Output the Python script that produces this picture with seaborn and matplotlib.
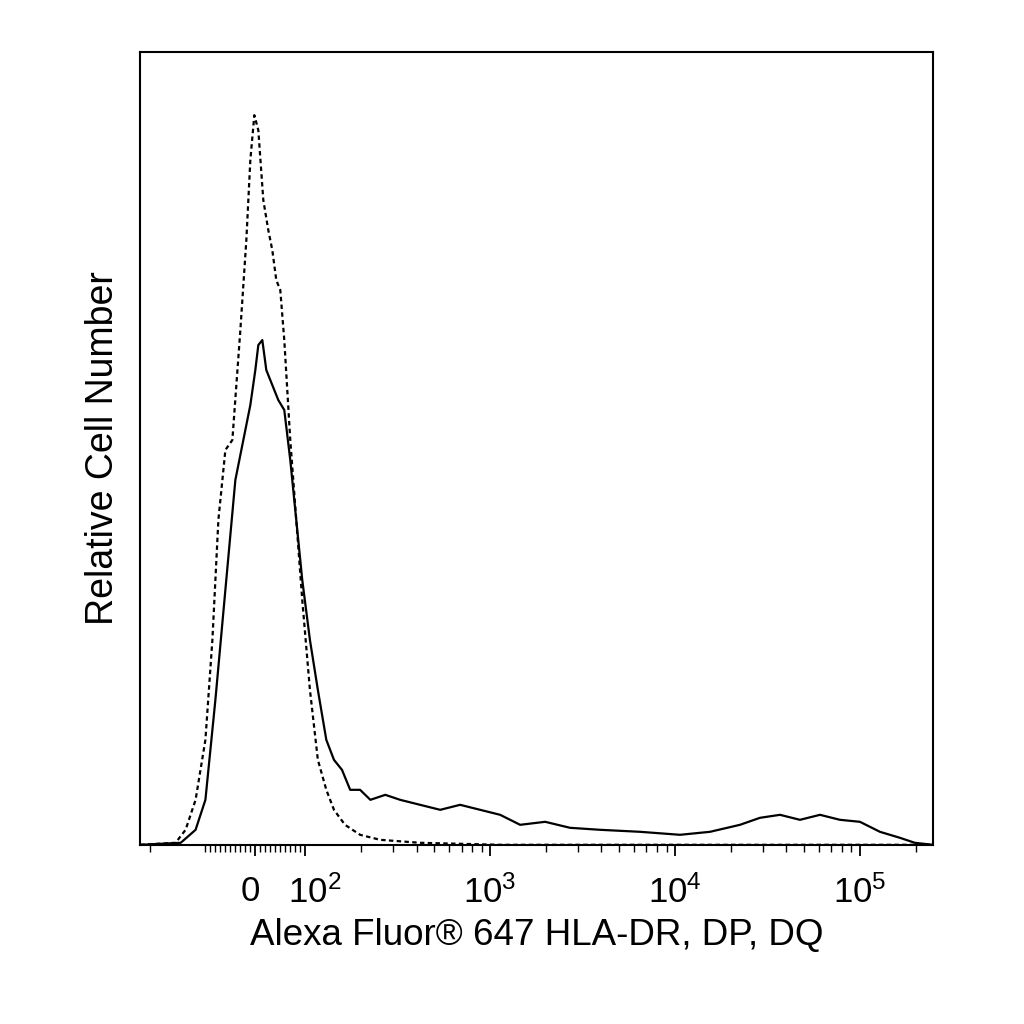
import numpy as np
import pandas as pd
import seaborn as sns
import matplotlib.pyplot as plt
from matplotlib.ticker import FixedLocator

sns.set_style("white")
plt.rcParams['font.family'] = ['Liberation Sans', 'DejaVu Sans']
plt.rcParams['mathtext.fontset'] = 'custom'
plt.rcParams['mathtext.rm'] = 'Liberation Sans'
plt.rcParams['mathtext.it'] = 'Liberation Sans'
plt.rcParams['text.color'] = 'black'
plt.rcParams['axes.labelcolor'] = 'black'
plt.rcParams['xtick.color'] = 'black'

# stained sample (solid)
stained_x = [-225, -136, -113, -100, -80, -60, -40, -20, -10, 0, 6, 14, 22, 34, 46, 58, 70, 82, 94,
             106, 117, 130, 143, 158, 175, 198, 225, 271, 326, 418, 537, 688, 883, 1133, 1453, 1984,
             2706, 3935, 6470, 10640, 15460, 22450, 28800, 36950, 47400, 60800, 78000, 100000,
             128300, 164500, 198200, 248000]
stained_y = [0, 2, 15, 45, 145, 255, 365, 415, 440, 475, 500, 505, 475, 460, 445, 435, 385, 325, 265,
             205, 155, 105, 85, 75, 55, 55, 45, 50, 45, 40, 35, 40, 35, 30, 20, 23, 17, 15, 13, 10,
             13, 20, 27, 30, 25, 30, 25, 23, 13, 7, 2, 0]

# isotype control (dashed)
control_x = [-225, -145, -128, -113, -100, -86, -74, -60, -46, -30, -18, -10, -2, 6, 16, 26, 34, 42,
             50, 58, 70, 82, 94, 106, 117, 130, 143, 164, 198, 254, 418, 1133, 248000]
control_y = [0, 2, 15, 45, 105, 205, 325, 395, 405, 515, 605, 685, 730, 715, 645, 615, 595, 565,
             555, 505, 405, 325, 245, 155, 85, 55, 35, 20, 10, 5, 2, 0, 0]

df = pd.concat([
    pd.DataFrame({"x": stained_x, "y": stained_y, "sample": "stained"}),
    pd.DataFrame({"x": control_x, "y": control_y, "sample": "control"}),
])

fig = plt.figure(figsize=(10.24, 10.24), dpi=100)
ax = fig.add_axes([0.137, 0.175, 0.774, 0.774])

sns.lineplot(data=df, x="x", y="y", style="sample", style_order=["stained", "control"],
             dashes={"stained": "", "control": (2, 1.5)}, color="black", linewidth=1.6,
             sort=False, estimator=None, legend=False, ax=ax)

ax.set_xscale("symlog", linthresh=100, linscale=0.243)
ax.set_xlim(-225, 248000)
ax.set_ylim(0, 793)
ax.set_yticks([])

major = [0, 100, 1000, 10000, 100000]
ax.xaxis.set_major_locator(FixedLocator(major))
ax.set_xticklabels(["0 ", r"  $10^2$", r"$10^3$", r"$10^4$", r"$10^5$"], fontsize=25)
minor = [-200, -100, -90, -80, -70, -60, -50, -40, -30, -20, -10, 10, 20, 30, 40, 50, 60, 70, 80, 90]
for d in [100, 1000, 10000, 100000]:
    minor += [d * k for k in range(2, 10) if d * k < 248000]
ax.xaxis.set_minor_locator(FixedLocator(minor))
ax.tick_params(axis="x", which="major", direction="out", length=8, width=1.3, bottom=True, pad=14)
ax.tick_params(axis="x", which="minor", direction="out", length=5, width=1.0, bottom=True)

for s in ax.spines.values():
    s.set_linewidth(1.5)
    s.set_color("black")

ax.set_xlabel("Alexa Fluor® 647 HLA-DR, DP, DQ", fontsize=26.5, labelpad=6)
ax.set_ylabel("Relative Cell Number", fontsize=27, labelpad=14)

fig.savefig("out.png", dpi=100)
